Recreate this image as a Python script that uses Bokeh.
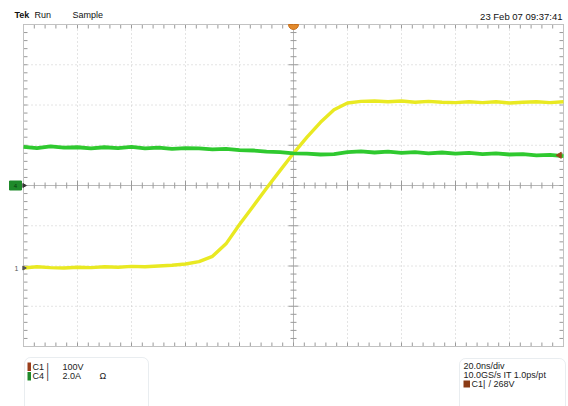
import numpy as np
from bokeh.plotting import figure
from bokeh.models import Range1d, BoxAnnotation
from bokeh.core.properties import value
from bokeh.embed import file_html
from bokeh.resources import INLINE

# ---------------- data (time in ns, amplitude in screen divisions) ----------------
time_ns = [-100, -95, -90, -85, -80, -75, -70, -65, -60, -55, -50, -45, -40, -35, -30,
           -25, -20, -15, -10, -5, 0, 5, 10, 15, 20, 25, 30, 35, 40, 45, 50, 55, 60,
           65, 70, 75, 80, 85, 90, 95, 100]
c1_div = [-2.05, -2.02, -2.04, -2.05, -2.03, -2.04, -2.02, -2.03, -2.01, -2.02, -2.00,
          -1.98, -1.95, -1.89, -1.76, -1.45, -0.97, -0.52, -0.07, 0.37, 0.80, 1.20,
          1.57, 1.88, 2.05, 2.09, 2.10, 2.08, 2.10, 2.07, 2.09, 2.07, 2.06, 2.08,
          2.06, 2.08, 2.05, 2.07, 2.08, 2.06, 2.08]
c4_div = [0.96, 0.93, 0.97, 0.94, 0.95, 0.92, 0.95, 0.93, 0.96, 0.92, 0.94, 0.91, 0.93,
          0.92, 0.90, 0.91, 0.88, 0.87, 0.84, 0.83, 0.80, 0.79, 0.77, 0.78, 0.83, 0.85,
          0.82, 0.84, 0.81, 0.83, 0.80, 0.82, 0.79, 0.81, 0.78, 0.80, 0.77, 0.78, 0.75,
          0.76, 0.73]
c1_ground_div = -2.05
c4_ground_div = 0.0
trigger_level_div = 0.80

header_words = ["Tek", "Run", "Sample"]
header_date = "23 Feb 07 09:37:41"
channel_names = ["C1", "C4"]
channel_scales = ["100V", "2.0A"]
timebase_text = "20.0ns/div"
sample_text = "10.0GS/s IT 1.0ps/pt"
trigger_src = "C1|"
trigger_text = "/ 268V"

# ---------------- geometry ----------------
W, H = 568, 406
OFF = 0
GL, GR, GT, GB = 23, 563, 24, 346          # graticule edges in picture pixels
NS_PX = 200.0 / (GR - GL)
DIV_PX = 8.0 / (GB - GT)
X0 = -100 - (GL - OFF) * NS_PX
X1 = X0 + W * NS_PX
Y1 = 4 + (GT - OFF) * DIV_PX
Y0 = Y1 - H * DIV_PX


def gx(px):
    return X0 + (px - OFF) * NS_PX


def gy(py):
    return Y1 - (py - OFF) * DIV_PX


p = figure(width=W, height=H, x_range=Range1d(X0, X1), y_range=Range1d(Y0, Y1),
           output_backend="svg", toolbar_location=None, min_border=0,
           x_axis_location=None, y_axis_location=None, outline_line_color=None,
           background_fill_color="white", border_fill_color="white")
for g in p.grid:
    g.visible = False

FONT = value("Liberation Sans")
FS = "9px"

# ---------------- graticule ----------------
grid_col = "#c8c8c8"
vx = [t for t in range(-80, 100, 20) if t != 0]
p.segment(x0=vx, y0=[-4] * len(vx), x1=vx, y1=[4] * len(vx),
          line_color=grid_col, line_dash="1 3", line_width=1)
hy = [d for d in range(-3, 4) if d != 0]
p.segment(x0=[-100] * len(hy), y0=hy, x1=[100] * len(hy), y1=hy,
          line_color=grid_col, line_dash="1 3", line_width=1)

# centre lines
p.segment(x0=[0, -100], y0=[-4, 0], x1=[0, 100], y1=[4, 0],
          line_color="#b8b8b8", line_width=1)

# ticks on centre lines and edges
tick_col = "#9a9a9a"
tx = np.arange(-100, 100.01, 4.0)
ty = np.arange(-4, 4.001, 0.2)
minor_v = 3 * DIV_PX
major_v = 5 * DIV_PX
minor_h = 3 * NS_PX
major_h = 5 * NS_PX
is_major_x = np.isclose(np.mod(tx + 100, 20), 0) | np.isclose(np.mod(tx + 100, 20), 20)
is_major_y = np.isclose(np.mod(ty + 4, 1), 0) | np.isclose(np.mod(ty + 4, 1), 1)
lx = np.where(is_major_x, major_v, minor_v)
ly = np.where(is_major_y, major_h, minor_h)
p.segment(x0=tx, y0=-lx, x1=tx, y1=lx, line_color=tick_col, line_width=1)
p.segment(x0=-ly, y0=ty, x1=ly, y1=ty, line_color=tick_col, line_width=1)
e_v = 4 * DIV_PX
e_h = 4 * NS_PX
p.segment(x0=tx, y0=4, x1=tx, y1=4 - e_v, line_color=tick_col, line_width=1)
p.segment(x0=tx, y0=-4, x1=tx, y1=-4 + e_v, line_color=tick_col, line_width=1)
p.segment(x0=-100, y0=ty, x1=-100 + e_h, y1=ty, line_color=tick_col, line_width=1)
p.segment(x0=100, y0=ty, x1=100 - e_h, y1=ty, line_color=tick_col, line_width=1)

# border
p.quad(left=[-100], right=[100], bottom=[-4], top=[4], fill_color=None,
       line_color="#c2c2c2", line_width=1)

# ---------------- traces ----------------
p.line(time_ns, c1_div, line_color="#e9e922", line_width=3.4, line_join="round")
p.line(time_ns, c4_div, line_color="#2fc92f", line_width=3.8, line_join="round")

# ---------------- markers ----------------
p.wedge(x=[0], y=[4], radius=5, radius_units="screen", start_angle=np.pi,
        end_angle=2 * np.pi, fill_color="#e38a2c", line_color="#c8701c")
p.scatter(x=[gx(559)], y=[trigger_level_div - 0.05], marker="triangle", angle=np.pi / 2,
          size=6, fill_color="#9a4a1a", line_color="#9a4a1a")
p.quad(left=[gx(9)], right=[gx(21)], bottom=[c4_ground_div - 4.5 * DIV_PX],
       top=[c4_ground_div + 4.5 * DIV_PX], fill_color="#1f8a2a", line_color="#1f8a2a")
p.text(x=[gx(15)], y=[c4_ground_div], text=["4"], text_font=FONT,
       text_font_size="6px", text_baseline="middle", text_align="center",
       text_color="#0b3b10")
p.scatter(x=[gx(23.5)], y=[c4_ground_div], marker="triangle", angle=-np.pi / 2,
          size=4, fill_color="#333333", line_color="#333333")
p.text(x=[gx(16)], y=[c1_ground_div], text=["1"], text_font=FONT,
       text_font_size="7px", text_baseline="middle", text_align="center",
       text_color="#555555")
p.scatter(x=[gx(23.5)], y=[c1_ground_div], marker="triangle", angle=-np.pi / 2,
          size=4, fill_color="#555555", line_color="#555555")

# ---------------- header ----------------
p.text(x=[gx(14)], y=[gy(14.5)], text=[header_words[0]], text_font=FONT,
       text_font_size=FS, text_font_style="bold", text_baseline="middle",
       text_color="#111111")
p.text(x=[gx(34), gx(72)], y=[gy(14.5)] * 2, text=header_words[1:], text_font=FONT,
       text_font_size=FS, text_baseline="middle", text_color="#111111")
p.text(x=[gx(562)], y=[gy(15.5)], text=[header_date], text_font=FONT,
       text_font_size="9.5px", text_baseline="middle", text_align="right",
       text_color="#111111")

# ---------------- info boxes ----------------
p.add_layout(BoxAnnotation(left=gx(24), right=gx(148), top=gy(357), bottom=gy(412),
                           fill_color=None, line_color="#b5c2ce", level="underlay",
                           line_width=1, border_radius=6))
p.add_layout(BoxAnnotation(left=gx(459), right=gx(565), top=gy(358), bottom=gy(412),
                           fill_color=None, line_color="#b5c2ce", level="underlay",
                           line_width=1, border_radius=6))

row_y = [gy(366), gy(375.5)]
p.quad(left=[gx(27)] * 2, right=[gx(30.5)] * 2,
       bottom=[gy(370.5), gy(380)], top=[gy(362), gy(371.5)],
       fill_color=["#9a3e1c", "#1f8a2a"], line_color=None)
p.text(x=[gx(32)] * 2, y=row_y, text=channel_names, text_font=FONT,
       text_font_size=FS, text_baseline="middle", text_color="#222222")
p.text(x=[gx(46)] * 2, y=row_y, text=["|", "|"], text_font=FONT,
       text_font_size=FS, text_baseline="middle", text_color="#222222")
p.text(x=[gx(62)] * 2, y=row_y, text=channel_scales, text_font=FONT,
       text_font_size=FS, text_baseline="middle", text_color="#222222")
p.text(x=[gx(99)], y=[row_y[1]], text=["\u03a9"], text_font=FONT,
       text_font_size=FS, text_baseline="middle", text_color="#222222")

p.text(x=[gx(463)] * 2, y=[gy(365), gy(374)], text=[timebase_text, sample_text],
       text_font=FONT, text_font_size=FS, text_baseline="middle",
       text_color="#222222")
p.quad(left=[gx(463)], right=[gx(469.5)], bottom=[gy(387)], top=[gy(380)],
       fill_color="#8a3a14", line_color=None)
p.text(x=[gx(471), gx(488)], y=[gy(383.5)] * 2, text=[trigger_src, trigger_text],
       text_font=FONT, text_font_size=FS, text_baseline="middle",
       text_color="#222222")

open("out.html", "w").write(file_html(p, INLINE))
